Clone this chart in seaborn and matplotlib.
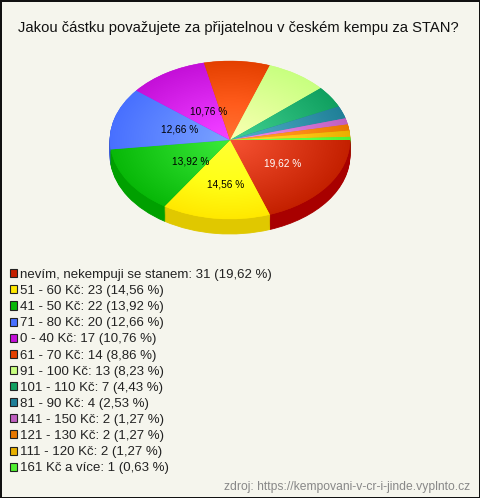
import numpy as np
import matplotlib
matplotlib.use("Agg")
import matplotlib.pyplot as plt
from matplotlib.colors import to_rgb
from matplotlib.patches import Patch
import seaborn as sns

title = "Jakou částku považujete za přijatelnou v českém kempu za STAN?"
source = "zdroj: https://kempovani-v-cr-i-jinde.vyplnto.cz"
categories = ["nevím, nekempuji se stanem", "51 - 60 Kč", "41 - 50 Kč", "71 - 80 Kč",
              "0 - 40 Kč", "61 - 70 Kč", "91 - 100 Kč", "101 - 110 Kč", "81 - 90 Kč",
              "141 - 150 Kč", "121 - 130 Kč", "111 - 120 Kč", "161 Kč a více"]
counts = [31, 23, 22, 20, 17, 14, 13, 7, 4, 2, 2, 2, 1]
percents = ["19,62", "14,56", "13,92", "12,66", "10,76", "8,86", "8,23",
            "4,43", "2,53", "1,27", "1,27", "1,27", "0,63"]
base_hex = ["#C42000", "#FFE800", "#08B808", "#4870FF", "#C410D8", "#E44000", "#C8FF80",
            "#10A060", "#208098", "#C060C0", "#E87800", "#E8B000", "#50F030"]
side_hex = ["#A80000", "#E0C800", "#00A000", "#3C5CD8", "#A00CB0", "#C03400", "#A8D868",
            "#0C8850", "#186C80", "#A050A0", "#C86400", "#C89800", "#40D028"]

sns.set_theme(style="white")
plt.rcParams["font.family"] = ["Liberation Sans", "DejaVu Sans"]
BG = "#F5F5ED"
W, H = 480, 498
colors = sns.color_palette(base_hex)
side_colors = sns.color_palette(side_hex)

fig = plt.figure(figsize=(W / 100, H / 100), dpi=100, facecolor=BG, edgecolor="#111111", linewidth=1.0)
depth = 15 / 79
top, bot = 61, 219 + 15
ax = fig.add_axes([110 / W, 1 - bot / H, 240 / W, (bot - top) / H])


def fmt(pct):
    return f"{pct:.2f}".replace(".", ",") + " %" if pct >= 10 else ""


def same_edge(patches, width):
    for p in patches:
        p.set_edgecolor(p.get_facecolor())
        p.set_linewidth(width)


steps = 16
for k in range(steps, 0, -1):
    side, _ = ax.pie(counts, colors=side_colors, startangle=0, counterclock=False,
                     center=(0, -depth * k / steps), radius=1, frame=False)
    same_edge(side, 0.6)

wedges, _, autotexts = ax.pie(counts, colors=colors, startangle=0, counterclock=False,
                              center=(0, 0), radius=1, autopct=fmt, pctdistance=0.53,
                              textprops={"fontsize": 7.3, "color": "black"})
same_edge(wedges, 0.3)
autotexts[0].set_color("white")

# nudge the value labels (pixels right, pixels down)
nudges = [(1, -1), (3, 3), (15, -1), (11, 1), (12, 7)]
for t, (dx, dy) in zip(autotexts, nudges):
    x, y = t.get_position()
    t.set_position((x + dx / 120, y - dy / 79))

# brighter towards the centre of the top face: an additive radial glow per slice
gx, gy = np.meshgrid(np.linspace(-1, 1, 480), np.linspace(-1, 1, 320))
glow = 0.2 * np.clip(1 - np.hypot(gx, gy), 0, 1)
for w, c in zip(wedges, base_hex):
    rgb = np.clip(np.array(to_rgb(c))[None, None, :] + glow[..., None], 0, 1)
    im = ax.imshow(rgb, extent=(-1, 1, -1, 1), aspect="auto", zorder=2, origin="lower")
    im.set_clip_path(w)

ax.set_xlim(-1, 1)
ax.set_ylim(-1 - depth, 1)
ax.set_axis_off()

fig.text(238 / W, 1 - 32 / H, title, ha="center", va="baseline", fontsize=10.66, color="#111111")

handles = [Patch(facecolor=c, edgecolor="#222222", linewidth=0.8) for c in base_hex]
labels = [f"{c}: {n} ({p} %)" for c, n, p in zip(categories, counts, percents)]
fig.legend(handles, labels, loc="upper left", bbox_to_anchor=(10 / W, 1 - 269 / H),
           bbox_transform=fig.transFigure, frameon=False, fontsize=9.55, borderpad=0,
           borderaxespad=0, handlelength=0.56, handleheight=0.56, handletextpad=0.2,
           labelspacing=0.31, labelcolor="#222222")

fig.text(470 / W, 1 - 490 / H, source, ha="right", va="baseline", fontsize=8.7, color="#888888")

fig.savefig("out.png", dpi=100, facecolor=BG, edgecolor="#111111")
